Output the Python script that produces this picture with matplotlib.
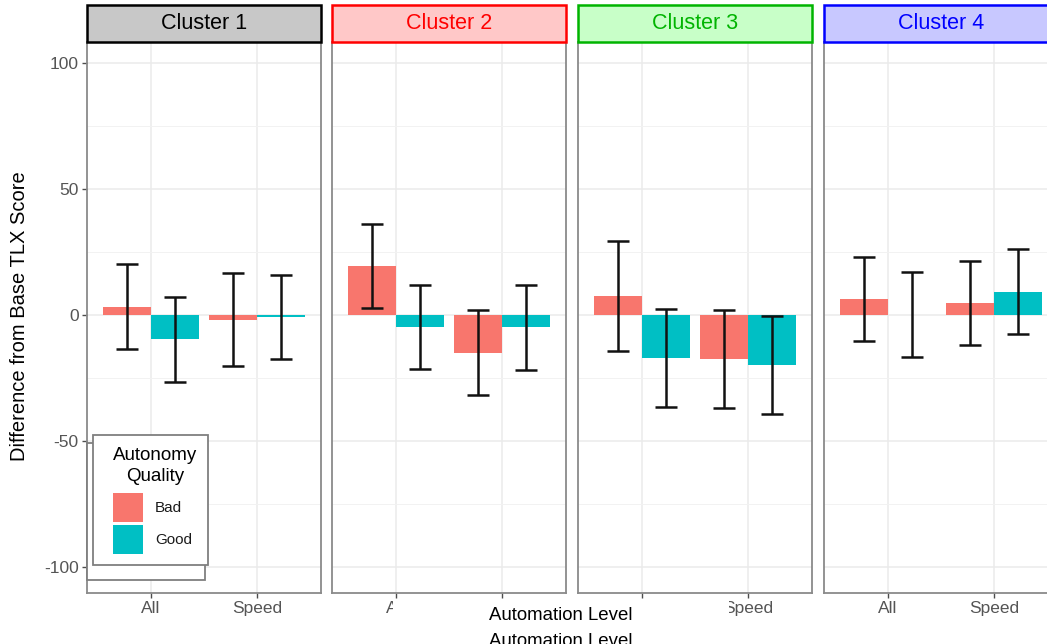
import numpy as np
import matplotlib.pyplot as plt
from matplotlib.patches import Rectangle

# ----------------------------------------------------------------------------
# TLX score difference by cluster, automation level and autonomy quality
# ----------------------------------------------------------------------------

clusters = ['Cluster 1', 'Cluster 2', 'Cluster 3', 'Cluster 4']
levels = ['All', 'Speed']

# mean difference and error half-width, per cluster: [All, Speed]
bad_mean = [[3.3, -1.8], [19.4, -14.9], [7.6, -17.4], [6.3, 4.7]]
bad_err = [[16.8, 18.3], [16.8, 16.8], [21.8, 19.4], [16.8, 16.8]]
good_mean = [[-9.7, -0.7], [-4.8, -4.9], [-17.1, -20.0], [0.1, 9.3]]
good_err = [[16.8, 16.7], [16.8, 16.8], [19.3, 19.4], [16.8, 16.8]]

strip_fill = ['#C8C8C8', '#FFC8C8', '#C8FFC8', '#C8C8FF']
strip_edge = ['black', '#FF0000', '#00B400', '#0000FF']
strip_text = ['black', '#FF0000', '#00B400', '#0000FF']

col_bad = '#F8766D'
col_good = '#00BFC4'

plt.rcParams['font.family'] = ['Liberation Sans', 'DejaVu Sans']

W, H = 1047, 644
fig = plt.figure(figsize=(W / 100, H / 100), dpi=100)

panel_x = [87, 332, 578, 824]
panel_w = 234
top, bottom = 42, 593
strip_top = 5

x = np.arange(1, len(levels) + 1)
bw = 0.45

axes = []
for i, name in enumerate(clusters):
    ax = fig.add_axes([panel_x[i] / W, 1 - bottom / H,
                       panel_w / W, (bottom - top) / H])
    axes.append(ax)

    ax.bar(x - bw / 2, bad_mean[i], width=bw, color=col_bad, zorder=2)
    ax.bar(x + bw / 2, good_mean[i], width=bw, color=col_good, zorder=2)
    ax.errorbar(x - bw / 2, bad_mean[i], yerr=bad_err[i], fmt='none',
                ecolor='#111111', elinewidth=1.8, capsize=8, capthick=1.8, zorder=3)
    ax.errorbar(x + bw / 2, good_mean[i], yerr=good_err[i], fmt='none',
                ecolor='#111111', elinewidth=1.8, capsize=8, capthick=1.8, zorder=3)

    ax.set_xlim(0.4, 2.6)
    ax.set_ylim(-110.3, 108.3)
    ax.set_xticks(x)
    ax.set_xticklabels(levels, fontsize=12.5, color='#555555')
    ax.set_yticks([-100, -50, 0, 50, 100])
    ax.set_yticks([-75, -25, 25, 75], minor=True)
    ax.grid(True, which='major', color='#EBEBEB', linewidth=1.1, zorder=0)
    ax.grid(True, which='minor', axis='y', color='#F2F2F2', linewidth=0.7, zorder=0)
    ax.set_axisbelow(True)
    ax.tick_params(axis='both', which='major', color='#4D4D4D', length=3.5, width=1,
                   pad=2.5)
    ax.tick_params(axis='y', which='minor', length=0)
    for s in ax.spines.values():
        s.set_color('#8A8A8A')
        s.set_linewidth(1.3)
    if i == 0:
        ax.set_yticklabels(['-100', '-50', '0', '50', '100'], fontsize=12.5,
                           color='#555555')
    else:
        ax.tick_params(axis='y', which='major', left=False, labelleft=False)

    # facet strip
    sh = (top - strip_top) / (bottom - top)
    ax.add_patch(Rectangle((0, 1), 1, sh, transform=ax.transAxes, clip_on=False,
                           facecolor=strip_fill[i], edgecolor=strip_edge[i],
                           linewidth=1.8, zorder=5))
    ax.text(0.5, 1 + sh / 2, name, transform=ax.transAxes, ha='center',
            va='center', fontsize=15.5, color=strip_text[i], zorder=6)

# tick labels fully hidden behind the x title area in the original
axes[1].get_xticklabels()[1].set_visible(False)
axes[2].get_xticklabels()[0].set_visible(False)

fig.text(20 / W, 1 - 316 / H, 'Difference from Base TLX Score', rotation=90,
         ha='center', va='center', fontsize=14.5)

# legend (drawn over a second offset frame)
fig.add_artist(Rectangle((87 / W, 1 - 580 / H), (205 - 87) / W, (580 - 443) / H,
                         facecolor='white', edgecolor='#7F7F7F', linewidth=1.3,
                         transform=fig.transFigure, zorder=10))
fig.add_artist(Rectangle((93 / W, 1 - 565 / H), (208 - 93) / W, (565 - 435) / H,
                         facecolor='white', edgecolor='#7F7F7F', linewidth=1.3,
                         transform=fig.transFigure, zorder=11))
fig.text(155 / W, 1 - 466 / H, 'Autonomy\nQuality', ha='center', va='center',
         fontsize=13.5, linespacing=1.25, zorder=12)
for j, (lab, c) in enumerate([('Bad', col_bad), ('Good', col_good)]):
    y0 = 493 + j * 32
    fig.add_artist(Rectangle((113 / W, 1 - (y0 + 29) / H), 30 / W, 29 / H,
                             facecolor=c, edgecolor='none',
                             transform=fig.transFigure, zorder=12))
    fig.text(155 / W, 1 - (y0 + 15) / H, lab, ha='left', va='center',
             fontsize=11, color='#1a1a1a', zorder=12)

# x axis title area (covers part of the middle tick labels)
fig.add_artist(Rectangle((393 / W, 0), (729 - 393) / W, (644 - 599) / H,
                         facecolor='white', edgecolor='none',
                         transform=fig.transFigure, zorder=20))
fig.text(561 / W, 1 - 616 / H, 'Automation Level', ha='center', va='center',
         fontsize=13.4, zorder=21)
fig.text(561 / W, 1 - 642 / H, 'Automation Level', ha='center', va='center',
         fontsize=13.4, zorder=21)

fig.savefig('out.png', dpi=100)
